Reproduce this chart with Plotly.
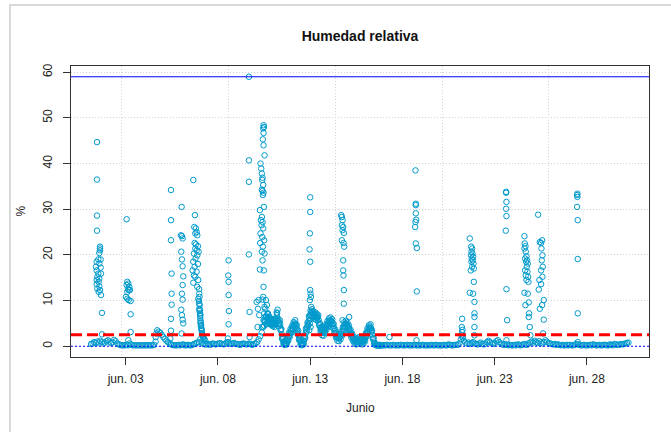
#######
# Humedad relativa (%) en junio: serie de puntos con umbrales
#######
import numpy as np
import pandas as pd
import plotly.graph_objects as go

# ---- datos ----
# linea base cada 2 h desde el 1 de junio 03:00 hasta el 10 de junio 11:00
base_a = [0.5, 0.6, 0.9, 0.7, 1.0, 0.8, 1.2, 0.9, 0.6, 0.8, 1.1,          # jun 01
          1.3, 1.0, 0.7, 0.9, 1.4, 1.1, 0.6, 0.4, 0.3, 0.2, 0.2, 0.2,     # jun 02
          0.3, 0.2, 0.6, 0.4, 0.2, 0.2, 0.2, 0.2, 0.2, 0.2, 0.2, 0.2,     # jun 03
          0.2, 0.2, 0.2, 0.2, 0.2, 0.2, 0.3, 2.0, 3.5, 3.2, 2.9, 2.5,     # jun 04
          2.0, 1.6, 1.2, 0.9, 0.6, 0.4, 0.3, 0.2, 0.2, 0.2, 0.3, 0.2,     # jun 05
          0.3, 0.4, 0.2, 0.2, 0.3, 0.2, 0.2, 0.3, 0.5, 0.6, 0.8, 0.9,     # jun 06
          1.5, 0.8, 0.5, 0.4, 0.4, 0.5, 0.3, 0.4, 0.6, 0.5, 0.4, 0.5,     # jun 07
          0.6, 0.7, 0.5, 0.4, 0.5, 0.8, 0.9, 0.6, 0.5, 0.6, 0.7, 0.5,     # jun 08
          0.5, 0.4, 0.3, 0.5, 0.6, 0.5, 0.4, 0.5, 0.6, 0.4, 0.3, 0.5,     # jun 09
          0.6, 0.9, 1.5, 2.2, 3.0, 4.2]                                   # jun 10

# cada hora desde el 10 de junio 12:00 hasta el 16 de junio 20:00 (tramo ondulado)
base_b = [4.5, 5.5, 6.5, 5.0, 6.0, 7.0, 5.2, 6.4, 5.0, 5.8, 4.8, 5.2,     # jun 10 12-23
          5.0, 4.6, 5.4, 5.0, 6.0, 7.2, 5.5, 5.0, 5.2, 4.8, 3.6, 2.6,     # jun 11
          1.8, 1.0, 0.6, 0.5, 0.7, 0.6, 1.0, 1.5, 2.0, 2.5, 2.9, 3.3,
          3.7, 4.0, 4.4, 4.7, 5.0, 4.8, 4.3, 3.7, 3.0, 2.4, 1.7, 1.1,     # jun 12
          0.7, 0.5, 0.6, 0.6, 1.2, 2.0, 2.8, 3.5, 4.2, 4.8, 5.5, 6.2,
          6.8, 7.3, 7.6, 7.4, 7.0, 6.6, 6.9, 6.4, 6.7, 6.2, 6.4, 5.8,     # jun 13
          4.8, 4.1, 3.6, 3.2, 3.0, 2.9, 3.1, 3.4, 3.8, 4.2, 4.6, 5.0,
          5.3, 5.5, 5.7, 5.6, 5.4, 5.0, 4.5, 3.9, 3.3, 2.8, 2.3, 2.0,     # jun 14
          1.8, 1.7, 1.9, 2.0, 2.4, 2.8, 3.2, 3.8, 4.3, 4.8, 5.0, 4.9,
          4.7, 4.3, 4.0, 3.6, 3.2, 2.8, 2.4, 2.0, 1.7, 1.4, 1.2, 1.0,     # jun 15
          0.9, 1.0, 1.2, 1.4, 1.5, 1.3, 1.2, 1.0, 0.9, 1.1, 1.3, 1.6,
          2.0, 2.5, 3.0, 3.4, 3.8, 4.1, 4.3, 4.0, 3.3, 2.5, 1.7, 1.0,     # jun 16
          0.5, 0.3, 0.2, 0.2, 0.2, 0.2, 0.2, 0.2, 0.2]

# mismo tramo a la media hora (da el grosor de la banda)
base_b2 = [5.7, 5.3, 6.4, 4.8, 7.1, 5.4, 6.5, 5.0, 6.1, 4.6, 5.8, 4.4,    # jun 10 12:30-23:30
           5.6, 4.2, 6.0, 4.8, 7.4, 5.6, 6.0, 4.4, 5.7, 3.5, 3.8, 1.6,    # jun 11
           2.0, 0.4, 1.1, 0.3, 1.3, 0.4, 1.9, 1.2, 3.0, 2.1, 3.8, 2.9,
           4.5, 3.6, 5.3, 4.2, 5.7, 3.9, 4.7, 2.7, 3.4, 1.4, 2.0, 0.3,    # jun 12
           1.2, 0.2, 1.2, 0.4, 2.3, 1.8, 3.9, 3.2, 5.2, 4.5, 6.6, 5.8,
           7.8, 6.8, 8.1, 6.5, 7.5, 6.0, 7.4, 5.8, 7.1, 5.6, 6.8, 4.6,    # jun 13
           5.1, 3.2, 4.1, 2.4, 3.6, 2.3, 4.0, 2.9, 4.7, 3.7, 5.5, 4.4,
           6.1, 4.9, 6.3, 4.8, 5.9, 4.0, 4.9, 2.9, 3.7, 1.9, 2.8, 1.2,    # jun 14
           2.4, 1.1, 2.6, 1.5, 3.3, 2.3, 4.2, 3.4, 5.3, 4.2, 5.6, 4.1,
           5.2, 3.5, 4.5, 2.7, 3.6, 1.9, 2.8, 1.2, 2.1, 0.7, 1.6, 0.4,    # jun 15
           1.5, 0.5, 1.9, 0.8, 2.0, 0.6, 1.7, 0.4, 1.5, 0.6, 2.1, 1.1,
           2.9, 2.1, 3.9, 3.0, 4.6, 3.6, 4.8, 3.1, 3.5, 1.6, 1.8, 0.4,    # jun 16
           0.6, 0.3, 0.2, 0.3, 0.2, 0.2, 0.3, 0.2, 0.2]

# cada 2 h desde el 16 de junio 22:00 hasta el 30 de junio 06:00
base_c = [0.2,                                                            # jun 16
          0.2, 0.2, 0.3, 0.2, 0.2, 0.2, 0.3, 0.2, 0.2, 0.2, 0.2, 0.3,     # jun 17
          0.2, 0.2, 0.2, 0.3, 0.2, 0.2, 0.2, 0.2, 0.3, 0.2, 0.2, 0.2,     # jun 18
          0.2, 0.3, 0.2, 0.2, 0.2, 0.2, 0.2, 0.3, 0.2, 0.2, 0.3, 0.2,     # jun 19
          0.2, 0.2, 0.2, 0.3, 0.2, 0.2, 0.4, 0.3, 0.2, 0.2, 0.3, 0.3,     # jun 20
          0.3, 0.6, 1.5, 2.0, 1.2, 0.8, 0.6, 0.8, 0.5, 0.7, 0.9, 0.6,     # jun 21
          0.5, 0.4, 0.6, 0.8, 0.5, 0.4, 0.6, 0.9, 1.2, 0.9, 0.6, 0.5,     # jun 22
          0.7, 1.1, 1.3, 0.9, 0.6, 0.4, 0.3, 0.5, 0.3, 0.2, 0.3, 0.2,     # jun 23
          0.2, 0.3, 0.2, 0.4, 0.3, 0.2, 0.3, 0.5, 0.4, 0.3, 0.6, 0.8,     # jun 24
          1.0, 0.8, 1.2, 0.9, 0.7, 1.1, 0.8, 0.6, 0.9, 1.3, 1.0, 0.7,     # jun 25
          0.6, 0.5, 0.4, 0.5, 0.3, 0.4, 0.3, 0.2, 0.3, 0.2, 0.2, 0.3,     # jun 26
          0.2, 0.3, 0.2, 0.2, 0.3, 0.5, 0.4, 0.3, 0.2, 0.2, 0.3, 0.2,     # jun 27
          0.2, 0.2, 0.3, 0.2, 0.4, 0.3, 0.2, 0.2, 0.3, 0.2, 0.2, 0.3,     # jun 28
          0.3, 0.2, 0.2, 0.4, 0.3, 0.2, 0.5, 0.4, 0.3, 0.3, 0.5, 0.4,     # jun 29
          0.5, 0.6, 0.7, 0.8]                                             # jun 30

# picos: (dia de junio con fraccion, % )
pico_01 = [(1.445, 44.7), (1.445, 36.5), (1.445, 28.6), (1.445, 25.3), (1.608, 21.8),
           (1.608, 21.4), (1.608, 21.0), (1.572, 20.4), (1.517, 19.0), (1.644, 19.0),
           (1.427, 18.5), (1.572, 18.1), (1.391, 17.4), (1.644, 17.2), (1.427, 16.6),
           (1.517, 15.9), (1.662, 15.9), (1.463, 15.2), (1.572, 14.8), (1.427, 14.5),
           (1.536, 14.1), (1.427, 13.6), (1.572, 13.1), (1.463, 12.6), (1.608, 12.3),
           (1.536, 11.9), (1.662, 11.2), (1.716, 7.3), (1.716, 2.6)]
pico_03 = [(3.052, 27.8), (3.089, 14.1), (3.143, 13.7), (3.052, 13.4), (3.197, 13.0),
           (3.125, 12.6), (3.161, 12.3), (3.089, 11.9), (3.233, 12.3), (3.016, 10.8),
           (3.089, 10.4), (3.161, 10.1), (3.269, 9.9), (3.269, 7.0), (3.269, 3.1),
           (3.143, 1.3)]
pico_04 = [(4.62, 1.0), (4.66, 2.8)]
pico_05 = [(5.456, 34.2), (5.456, 27.6), (5.456, 23.2), (5.49, 15.9), (5.49, 11.5),
           (5.49, 9.1), (5.456, 6.0), (5.456, 3.4), (5.42, 1.7)]
pico_06a = [(6.032, 30.5), (5.996, 24.3), (6.05, 24.1), (6.086, 23.6), (6.014, 20.7),
            (6.05, 19.0), (6.086, 17.5), (6.122, 15.3), (6.086, 13.4), (6.05, 11.5),
            (6.086, 10.2), (6.014, 8.0), (6.05, 6.8), (6.086, 5.8), (6.122, 5.0),
            (6.032, 2.8)]
pico_06b = [(6.665, 36.4), (6.755, 28.7), (6.719, 26.1), (6.808, 25.8), (6.845, 25.0),
            (6.773, 24.7), (6.881, 24.3), (6.737, 22.6), (6.808, 22.3), (6.917, 21.9),
            (6.773, 21.4), (6.845, 21.0), (6.953, 20.7), (6.701, 20.3), (6.881, 19.9),
            (6.79, 19.2), (6.665, 18.5), (6.917, 18.0), (6.737, 17.4), (6.628, 16.6),
            (6.845, 16.3), (6.701, 15.5), (6.773, 15.2), (6.935, 14.5), (6.665, 13.9),
            (6.881, 13.0), (6.98, 12.5), (6.989, 11.5), (6.935, 10.4), (7.0, 10.8),
            (6.971, 9.9), (6.989, 9.3), (7.01, 9.0), (6.989, 8.2), (7.03, 8.0),
            (7.007, 7.7), (7.025, 7.2), (7.05, 6.9), (7.043, 6.6), (7.043, 6.1),
            (7.061, 5.5), (7.07, 5.2), (7.061, 5.0), (7.09, 4.6), (7.079, 4.4),
            (7.097, 3.9), (7.12, 3.7), (7.115, 3.4), (7.133, 2.9), (7.15, 2.6),
            (7.169, 2.4), (7.19, 2.1), (7.205, 1.9), (7.23, 1.7), (7.259, 1.5),
            (7.314, 1.2)]
pico_08 = [(8.578, 18.8), (8.56, 15.5), (8.578, 14.1), (8.578, 11.2), (8.596, 7.7),
           (8.578, 4.8), (8.542, 1.7)]
pico_09 = [(9.679, 59.0), (9.679, 40.7), (9.679, 36.0), (9.679, 20.1), (9.715, 7.5),
           (9.715, 2.0)]
pico_10 = [(10.473, 48.4), (10.491, 48.0), (10.455, 47.7), (10.473, 46.7), (10.437, 45.3),
           (10.473, 44.0), (10.527, 41.8), (10.311, 40.0), (10.347, 38.9), (10.383, 37.8),
           (10.419, 36.9), (10.401, 36.4), (10.455, 35.3), (10.383, 34.3), (10.419, 34.0),
           (10.473, 33.6), (10.437, 33.1), (10.491, 30.5), (10.275, 29.8), (10.383, 28.3),
           (10.329, 27.6), (10.419, 27.2), (10.365, 26.5), (10.455, 25.8), (10.311, 24.7),
           (10.401, 23.9), (10.509, 23.2), (10.293, 22.6), (10.437, 21.8), (10.383, 20.7),
           (10.527, 20.3), (10.419, 18.8), (10.275, 16.8), (10.491, 16.6), (10.473, 13.0),
           (10.455, 10.8), (10.419, 10.2), (10.527, 8.6), (10.509, 7.2), (10.473, 5.7),
           (10.383, 4.2), (10.095, 9.7), (10.167, 8.2), (10.149, 4.2), (10.239, 6.8),
           (10.203, 10.1), (10.6, 10.1), (10.655, 9.0), (10.709, 7.2), (10.564, 8.2),
           (10.745, 6.1)]
pico_11 = [(11.233, 8.0), (11.197, 6.8)]
pico_13 = [(13.003, 32.6), (13.003, 29.4), (12.985, 24.7), (12.967, 21.2), (13.003, 18.5),
           (13.003, 12.3), (13.021, 11.5), (13.039, 10.8), (12.985, 10.1), (13.057, 8.6),
           (12.985, 5.0), (13.021, 4.2), (12.949, 3.5), (13.634, 4.2)]
pico_14 = [(14.681, 28.7), (14.717, 28.3), (14.753, 27.6), (14.717, 26.5), (14.789, 26.1),
           (14.753, 25.4), (14.825, 24.8), (14.717, 23.2), (14.807, 22.6), (14.843, 21.8),
           (14.789, 18.8), (14.789, 16.6), (14.807, 15.5), (14.825, 12.3), (14.825, 9.3),
           (14.753, 5.7), (15.114, 6.4)]
pico_17 = [(17.30, 2.0)]
pico_18 = [(18.708, 38.5), (18.726, 31.2), (18.726, 30.9), (18.726, 29.1), (18.744, 27.7),
           (18.708, 27.2), (18.69, 26.1), (18.726, 22.5), (18.78, 21.5), (18.78, 12.0),
           (18.762, 1.3)]
pico_21a = [(21.236, 6.0), (21.218, 4.2), (21.254, 3.6), (21.236, 3.1), (21.2, 2.4),
            (21.272, 1.9)]
pico_21b = [(21.651, 23.6), (21.723, 21.8), (21.777, 21.4), (21.741, 20.7), (21.795, 20.3),
            (21.723, 19.9), (21.831, 19.6), (21.759, 19.2), (21.813, 18.8), (21.741, 18.5),
            (21.85, 18.1), (21.777, 17.4), (21.705, 16.6), (21.868, 17.0), (21.868, 14.1),
            (21.651, 11.7), (21.831, 11.5), (21.904, 9.7), (21.904, 7.2), (21.904, 6.4),
            (21.904, 4.2), (21.904, 2.4)]
pico_23 = [(23.62, 33.8), (23.62, 33.6), (23.638, 31.6), (23.62, 30.1), (23.638, 28.5),
           (23.602, 25.3), (23.638, 12.5), (23.674, 5.7), (23.638, 1.3)]
pico_24 = [(24.613, 24.1), (24.631, 22.5), (24.667, 21.9), (24.613, 21.4), (24.685, 20.7),
           (24.721, 19.7), (24.649, 19.2), (24.757, 18.8), (24.703, 18.5), (24.793, 18.1),
           (24.739, 17.4), (24.649, 16.6), (24.775, 16.3), (24.685, 15.5), (24.811, 15.2),
           (24.721, 14.5), (24.829, 14.1), (24.613, 11.7), (24.793, 11.5), (24.847, 9.6),
           (24.667, 9.0), (24.865, 7.2), (24.847, 6.4), (24.901, 4.2), (24.937, 2.4)]
pico_25 = [(25.354, 28.8), (25.444, 22.8), (25.516, 22.6), (25.57, 23.2), (25.534, 21.4),
           (25.588, 19.9), (25.552, 18.8), (25.606, 17.4), (25.516, 16.6), (25.588, 15.2),
           (25.426, 14.5), (25.516, 13.6), (25.39, 12.4), (25.66, 10.1), (25.57, 9.0),
           (25.444, 8.2), (25.66, 5.8), (25.624, 2.8)]
pico_27 = [(27.483, 33.4), (27.464, 33.1), (27.483, 32.7), (27.464, 30.5), (27.501, 27.6),
           (27.501, 19.1), (27.501, 7.2), (27.501, 0.9)]

# umbrales
umbral_max = 59
umbral_medio = 2.5
umbral_min = 0

# etiquetas del eje x
dias_ticks = [3, 8, 13, 18, 23, 28]
etiquetas_ticks = ['jun. 03', 'jun. 08', 'jun. 13', 'jun. 18', 'jun. 23', 'jun. 28']

# ---- armar la serie ----
inicio = pd.Timestamp('2021-06-01')
t_a = pd.date_range('2021-06-01 03:00', periods=len(base_a), freq='2h')
t_b = pd.date_range('2021-06-10 12:00', periods=len(base_b), freq='1h')
t_b2 = pd.date_range('2021-06-10 12:30', periods=len(base_b2), freq='1h')
t_c = pd.date_range('2021-06-16 22:00', periods=len(base_c), freq='2h')

picos = (pico_01 + pico_03 + pico_04 + pico_05 + pico_06a + pico_06b + pico_08 + pico_09
         + pico_10 + pico_11 + pico_13 + pico_14 + pico_17 + pico_18 + pico_21a + pico_21b
         + pico_23 + pico_24 + pico_25 + pico_27)
pico_dia = np.array([p[0] for p in picos])
pico_hr = [p[1] for p in picos]
t_p = inicio + pd.to_timedelta(pico_dia - 1, unit='D')

df = pd.DataFrame({
    'fecha': list(t_a) + list(t_b) + list(t_b2) + list(t_c) + list(t_p),
    'hr': base_a + base_b + base_b2 + base_c + pico_hr,
}).sort_values('fecha')

fuente = 'Liberation Sans, Arial, Helvetica, sans-serif'
gris_grilla = '#D3D3D3'
rango_x = ['2021-05-31 00:53', '2021-07-01 08:44']

trace0 = go.Scatter(
    x=df['fecha'], y=df['hr'],
    mode='markers',
    marker=dict(symbol='circle-open', size=5.5, color='#009ACD', line=dict(width=1)),
    showlegend=False,
)

layout = go.Layout(
    width=671, height=432,
    margin=dict(l=71, r=22, t=66, b=75),
    paper_bgcolor='white', plot_bgcolor='white',
    font=dict(family=fuente, size=12, color='#222222'),
    title=dict(text='<b>Humedad relativa</b>', x=0.5, xref='paper',
               y=1 - 36 / 432, yref='container', yanchor='middle',
               font=dict(size=14, color='#111111')),
    xaxis=dict(
        type='date', range=rango_x, automargin=False,
        tickmode='array',
        tickvals=[inicio + pd.Timedelta(days=d - 1) for d in dias_ticks],
        ticktext=etiquetas_ticks,
        ticks='outside', ticklen=7, tickcolor='#333333',
        ticklabelstandoff=4,
        showgrid=False, zeroline=False,
        showline=True, linecolor='#333333', linewidth=1, mirror=True,
        # grilla vertical cada 500000 s, como grid() de R
        minor=dict(tickmode='linear', tick0='2021-06-02 18:48', dtick=500000000,
                   showgrid=True, gridcolor=gris_grilla, griddash='1px,2px',
                   gridwidth=1, ticks=''),
    ),
    yaxis=dict(
        range=[-2.36, 61.36], automargin=False,
        tickmode='array', tickvals=[0, 10, 20, 30, 40, 50, 60],
        tickangle=-90,
        ticks='outside', ticklen=7, tickcolor='#333333',
        ticklabelstandoff=6,
        showgrid=True, gridcolor=gris_grilla, griddash='1px,2px', gridwidth=1,
        zeroline=False,
        showline=True, linecolor='#333333', linewidth=1, mirror=True,
    ),
    shapes=[
        dict(type='line', xref='paper', x0=0, x1=1, yref='y', y0=umbral_max, y1=umbral_max,
             line=dict(color='#0000FF', width=1), layer='above'),
        dict(type='line', xref='paper', x0=0, x1=1, yref='y', y0=umbral_medio, y1=umbral_medio,
             line=dict(color='#FF0000', width=3, dash='11px,5px'), layer='above'),
        dict(type='line', xref='paper', x0=0, x1=1, yref='y', y0=umbral_min, y1=umbral_min,
             line=dict(color='#0000FF', width=1, dash='2px,2px'), layer='above'),
        # marco gris de la ventana
        dict(type='rect', xref='paper', yref='paper',
             x0=(10 - 71) / 578, x1=1.1, y0=-0.3, y1=(357 - 5) / 291,
             line=dict(color='#D9D9D9', width=2), layer='above'),
    ],
    annotations=[
        dict(text='Junio', xref='paper', yref='paper', x=0.5, y=(357 - 408) / 291,
             showarrow=False, xanchor='center', yanchor='middle', font=dict(size=12)),
        dict(text='%', xref='paper', yref='paper', x=(20 - 71) / 578, y=0.5,
             showarrow=False, textangle=-90, xanchor='center', yanchor='middle',
             font=dict(size=12)),
    ],
)

fig = go.Figure(data=[trace0], layout=layout)
fig.write_html("out.html", config={'displayModeBar': False},
               post_script="document.body.style.margin='0';document.body.style.overflow='hidden';")
